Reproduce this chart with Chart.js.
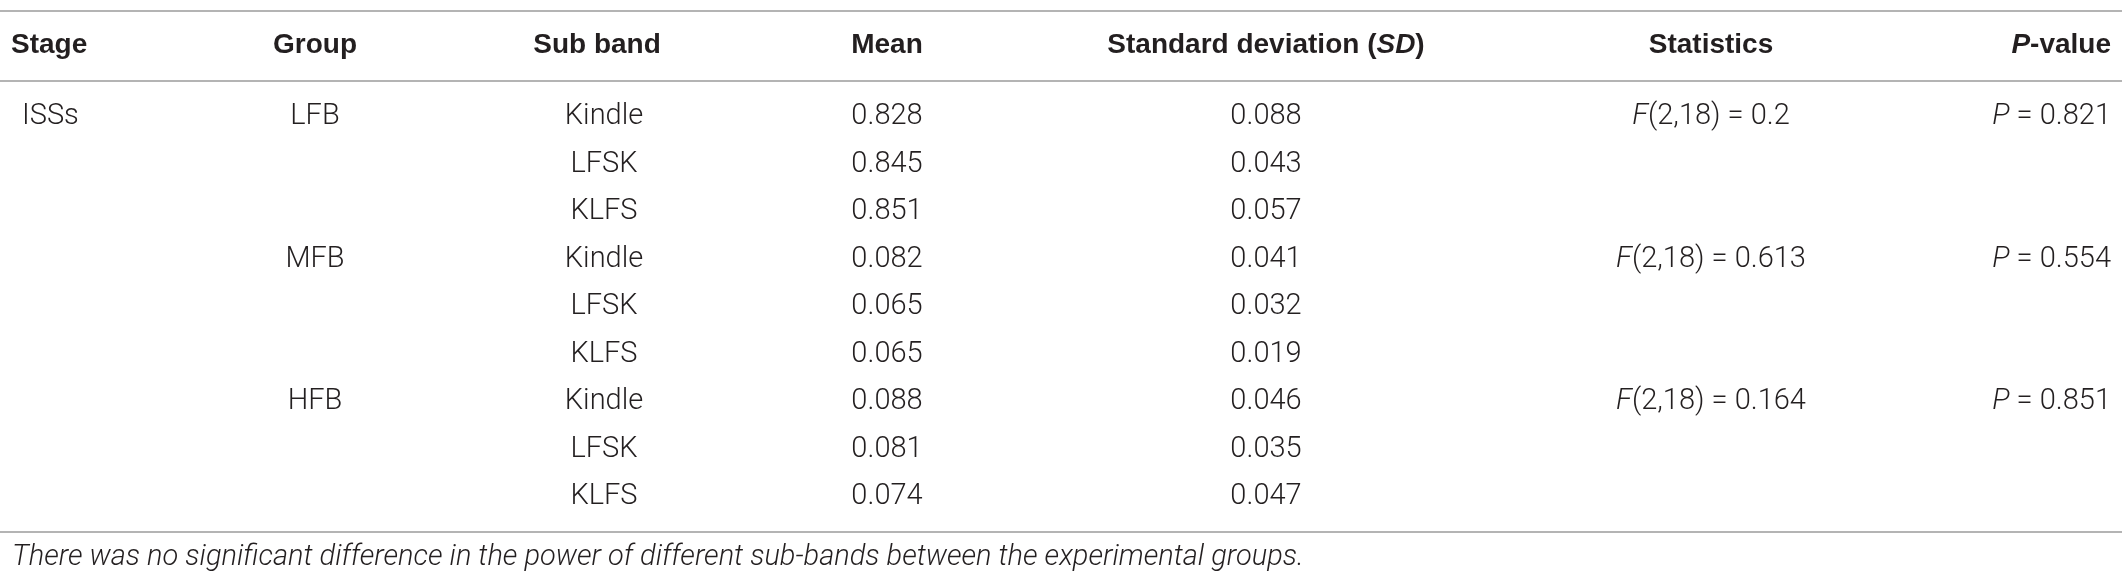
<!DOCTYPE html>
<html>
<head>
<meta charset="utf-8">
<script src="https://cdn.jsdelivr.net/npm/chart.js@4/dist/chart.umd.min.js"></script>
<style>
  html, body { margin: 0; padding: 0; background: #fff; }
  #wrap { width: 2128px; height: 586px; }
</style>
</head>
<body>
<div id="wrap"><canvas id="tableChart" width="2128" height="586"></canvas></div>
<script>
// table content
const headers = ['Stage', 'Group', 'Sub band', 'Mean', 'Standard deviation (SD)', 'Statistics', 'P-value'];
const stages = ['ISSs'];
const groups = ['LFB', 'MFB', 'HFB'];
const subBands = ['Kindle', 'LFSK', 'KLFS'];
const means = [0.828, 0.845, 0.851, 0.082, 0.065, 0.065, 0.088, 0.081, 0.074];
const sds = [0.088, 0.043, 0.057, 0.041, 0.032, 0.019, 0.046, 0.035, 0.047];
const fDf = [2, 18];
const fValues = [0.2, 0.613, 0.164];
const pValues = [0.821, 0.554, 0.851];
const footnote = 'There was no significant difference in the power of different sub-bands between the experimental groups.';

// layout (scale units: x = px across, y = table rows)
const colX = { stage: 11, stageBody: 22, group: 315, subHead: 597, sub: 604, mean: 887, sd: 1266, stat: 1711, p: 2111 };
const headerRow = -0.50;
const ruleRows = [-1.23, 0.24, 9.74];
const footRow = 10.28;

const TXT = '#231f20';
const BODY_FONT = '300 29px Roboto';
const BODY_ITAL = 'italic 300 29px Roboto';
const HEAD_FONT = 'bold 28px "Liberation Sans"';
const HEAD_ITAL = 'italic bold 28px "Liberation Sans"';

// cell list -> {x, y, parts, align}
const cells = [];
function addCell(x, y, parts, align, head) {
  cells.push({ x: x, y: y, parts: parts, align: align, head: head });
}
headers.forEach((h, i) => {
  const xs = [colX.stage, colX.group, colX.subHead, colX.mean, colX.sd, colX.stat, colX.p];
  const al = i === 0 ? 'left' : (i === headers.length - 1 ? 'right' : 'center');
  let parts = [{ t: h }];
  if (h.indexOf('(SD)') >= 0) parts = [{ t: 'Standard deviation (' }, { t: 'SD', i: true }, { t: ')' }];
  if (h === 'P-value') parts = [{ t: 'P', i: true }, { t: '-value' }];
  addCell(xs[i], headerRow, parts, al, true);
});
stages.forEach((s, i) => addCell(colX.stageBody, 1 + i * 9, [{ t: s }], 'left'));
groups.forEach((g, gi) => {
  const r = 1 + gi * subBands.length;
  addCell(colX.group, r, [{ t: g }], 'center');
  subBands.forEach((sb, si) => {
    const k = gi * subBands.length + si;
    addCell(colX.sub, r + si, [{ t: sb }], 'center');
    addCell(colX.mean, r + si, [{ t: means[k].toFixed(3) }], 'center');
    addCell(colX.sd, r + si, [{ t: sds[k].toFixed(3) }], 'center');
  });
  addCell(colX.stat, r, [{ t: 'F', i: true }, { t: '(' + fDf.join(',') + ') = ' + fValues[gi] }], 'center');
  addCell(colX.p, r, [{ t: 'P', i: true }, { t: ' = ' + pValues[gi].toFixed(3) }], 'right');
});

// draws cell text at the points placed by the scales, plus the rules and the note
const tablePlugin = {
  id: 'tableText',
  afterDatasetsDraw(chart) {
    const ctx = chart.ctx;
    const xs = chart.scales.x, ys = chart.scales.y;
    ctx.save();
    ctx.strokeStyle = '#b4b4b4';
    ctx.lineWidth = 2;
    ruleRows.forEach(r => {
      const y = Math.round(ys.getPixelForValue(r));
      ctx.beginPath();
      ctx.moveTo(xs.getPixelForValue(0), y);
      ctx.lineTo(xs.getPixelForValue(2122), y);
      ctx.stroke();
    });
    ctx.fillStyle = TXT;
    ctx.textBaseline = 'middle';
    ctx.textAlign = 'left';
    const meta = chart.getDatasetMeta(0);
    meta.data.forEach((pt, idx) => {
      const c = cells[idx];
      const fonts = c.parts.map(p => c.head ? (p.i ? HEAD_ITAL : HEAD_FONT) : (p.i ? BODY_ITAL : BODY_FONT));
      const widths = c.parts.map((p, j) => { ctx.font = fonts[j]; return ctx.measureText(p.t).width; });
      const total = widths.reduce((a, b) => a + b, 0);
      let x = pt.x;
      if (c.align === 'center') x -= total / 2;
      if (c.align === 'right') x -= total;
      c.parts.forEach((p, j) => {
        ctx.font = fonts[j];
        ctx.fillText(p.t, x, pt.y);
        x += widths[j];
      });
    });
    ctx.font = 'italic 300 29px Roboto';
    ctx.fillText(footnote, xs.getPixelForValue(12), ys.getPixelForValue(footRow));
    ctx.restore();
  }
};

new Chart(document.getElementById('tableChart'), {
  type: 'scatter',
  data: {
    datasets: [{
      data: cells.map(c => ({ x: c.x, y: c.y })),
      pointRadius: 0,
      pointHoverRadius: 0
    }]
  },
  options: {
    responsive: false,
    animation: false,
    devicePixelRatio: 1,
    layout: { padding: 0 },
    plugins: { legend: { display: false }, tooltip: { enabled: false } },
    scales: {
      x: { type: 'linear', display: false, min: 0, max: 2128 },
      y: { type: 'linear', display: false, reverse: true, min: -1.463, max: 10.874 }
    }
  },
  plugins: [tablePlugin]
});
</script>
</body>
</html>
